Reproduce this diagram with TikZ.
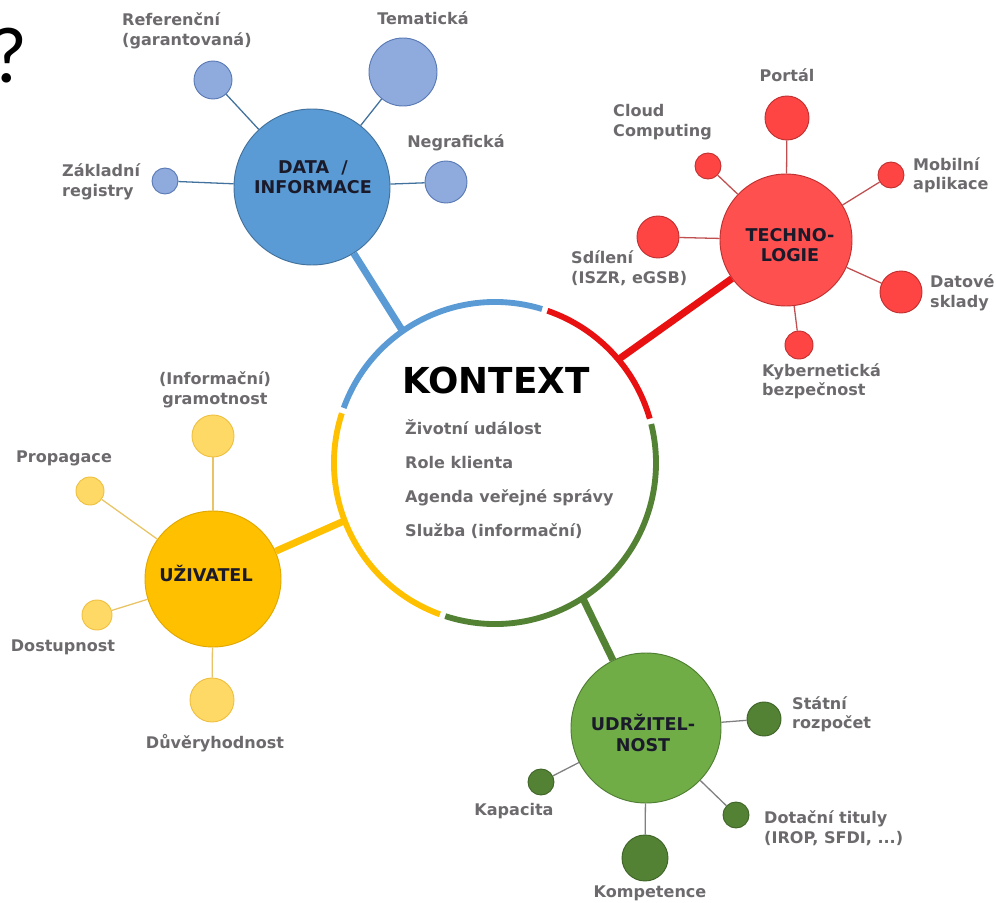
\documentclass[tikz,border=0pt]{standalone}
\usepackage{fontspec}
\setmainfont{DejaVu Sans}
\newfontfamily\qfont{Carlito}
\usetikzlibrary{calc}

\definecolor{cblue}{HTML}{5B9BD5}
\definecolor{cblueline}{HTML}{41719C}
\definecolor{sblue}{HTML}{8FAADC}
\definecolor{sblueline}{HTML}{5A7AB5}
\definecolor{cred}{HTML}{E81010}
\definecolor{hred}{HTML}{FF5050}
\definecolor{hredline}{HTML}{C03030}
\definecolor{sred}{HTML}{FF4444}
\definecolor{lred}{HTML}{C05050}
\definecolor{cyellow}{HTML}{FFC000}
\definecolor{cyellowline}{HTML}{E0A800}
\definecolor{syellow}{HTML}{FFD966}
\definecolor{syellowline}{HTML}{EEC040}
\definecolor{lyellow}{HTML}{E8C466}
\definecolor{cgreen}{HTML}{548235}
\definecolor{hgreen}{HTML}{70AD47}
\definecolor{hgreenline}{HTML}{507E32}
\definecolor{sgreenline}{HTML}{3F6427}
\definecolor{lgreen}{HTML}{808080}
\definecolor{lblgray}{HTML}{6D6A6E}
\definecolor{hubtext}{HTML}{1A1A2A}

\begin{document}
\begin{tikzpicture}[x = 0.03cm, y = 0.03cm,
	hub/.style = {circle, draw, line width = 0.8pt, inner sep = 0pt, minimum size = #1*0.06cm},
	hubtxt/.style = {inner sep = 0pt, align = center, text = hubtext, font = \bfseries\fontsize{15}{17.5}\selectfont},
	sat/.style = {circle, draw, line width = 0.8pt, inner sep = 0pt, minimum size = #1*0.06cm},
	lbl/.style = {inner sep = 0pt, align = left, text = lblgray, font = \bfseries\fontsize{13.7}{16.6}\selectfont},
	link/.style = {line width = 1.1pt},
	spoke/.style = {line width = 6pt},
	ring/.style = {line width = 5pt}]
	\useasboundingbox (0,-903) rectangle (996,0);
	
	%otaznik
	\node[font = \qfont\fontsize{68}{68}\selectfont, anchor = base, inner sep = 0pt] (qmark) at (9,-83) {?};
	
	%kontext
	\node[circle, minimum size = 9.66cm, inner sep = 0pt, outer sep = 0pt] (kontext) at (495,-463) {};
	\node[font = \bfseries\fontsize{30.5}{30.5}\selectfont, inner sep = 0pt] (title) at (496,-380) {KONTEXT};
	\node[lbl, anchor = west, font = \bfseries\fontsize{13.7}{29}\selectfont] (ctxlist) at (405,-479) {Životní událost\\Role klienta\\Agenda veřejné správy\\Služba (informační)};
	
	%hlavni uzly
	\node[hub = 78, fill = cblue, draw = cblueline] (data) at (312,-187) {};
	\node[hub = 66, fill = hred, draw = hredline] (techno) at (786,-240) {};
	\node[hub = 68, fill = cyellow, draw = cyellowline] (uziv) at (213,-579) {};
	\node[hub = 75, fill = hgreen, draw = hgreenline] (udrz) at (646,-728) {};
	\node[hubtxt] (datatxt) at (313,-177) {DATA\ \ /\\INFORMACE};
	\node[hubtxt] (technotxt) at (790,-245) {TECHNO-\\LOGIE};
	\node[hubtxt] (uzivtxt) at (206,-573) {UŽIVATEL};
	\node[hubtxt] (udrztxt) at (643,-733) {UDRŽITEL-\\NOST};
	
	%spojky ke kruhu
	\draw[spoke, cblue] (kontext.125) -- (data);
	\draw[spoke, cred] (kontext.40) -- (techno);
	\draw[spoke, cyellow] (kontext.201) -- (uziv);
	\draw[spoke, cgreen] (kontext.-57) -- (udrz);
	
	%kruh
	\draw[ring, cblue] (kontext.73) arc[start angle = 73, end angle = 160, radius = 4.83cm];
	\draw[ring, cred] (kontext.16) arc[start angle = 16, end angle = 71, radius = 4.83cm];
	\draw[ring, cgreen] (kontext.252) arc[start angle = 252, end angle = 374, radius = 4.83cm];
	\draw[ring, cyellow] (kontext.162) arc[start angle = 162, end angle = 250, radius = 4.83cm];
	
	%data / informace
	\node[sat = 19, fill = sblue, draw = sblueline] (ref) at (213,-80) {};
	\node[sat = 34, fill = sblue, draw = sblueline] (tem) at (403,-72) {};
	\node[sat = 21, fill = sblue, draw = sblueline] (neg) at (446,-182) {};
	\node[sat = 13, fill = sblue, draw = sblueline] (zak) at (165,-181) {};
	\foreach \s in {ref, tem, neg, zak}
		\draw[link, cblueline] (data) -- (\s);
	\node[lbl, anchor = west] (reflbl) at (122,-31) {Referenční\\(garantovaná)};
	\node[lbl] (temlbl) at (423,-18) {Tematická};
	\node[lbl] (neglbl) at (456,-143) {Negrafická};
	\node[lbl, anchor = west] (zaklbl) at (62,-182) {Základní\\registry};
	
	%technologie
	\node[sat = 22, fill = sred, draw = hredline] (portal) at (787,-118) {};
	\node[sat = 13, fill = sred, draw = hredline] (cloud) at (708,-166) {};
	\node[sat = 13, fill = sred, draw = hredline] (mob) at (891,-175) {};
	\node[sat = 21, fill = sred, draw = hredline] (sdil) at (658,-237) {};
	\node[sat = 21, fill = sred, draw = hredline] (dat) at (901,-292) {};
	\node[sat = 14, fill = sred, draw = hredline] (kyb) at (799,-345) {};
	\foreach \s in {portal, cloud, mob, sdil, dat, kyb}
		\draw[link, lred] (techno) -- (\s);
	\node[lbl] (portallbl) at (787,-75) {Portál};
	\node[lbl, anchor = west] (cloudlbl) at (613,-122) {Cloud\\Computing};
	\node[lbl, anchor = west] (moblbl) at (913,-175) {Mobilní\\aplikace};
	\node[lbl, anchor = west] (sdillbl) at (571,-268) {Sdílení\\(ISZR, eGSB)};
	\node[lbl, anchor = west] (datlbl) at (930,-293) {Datové\\sklady};
	\node[lbl, anchor = west] (kyblbl) at (762,-381) {Kybernetická\\bezpečnost};
	
	%uzivatel
	\node[sat = 21, fill = syellow, draw = syellowline] (gram) at (213,-436) {};
	\node[sat = 14, fill = syellow, draw = syellowline] (prop) at (90,-491) {};
	\node[sat = 15, fill = syellow, draw = syellowline] (dost) at (97,-615) {};
	\node[sat = 22, fill = syellow, draw = syellowline] (duv) at (212,-700) {};
	\foreach \s in {gram, prop, dost, duv}
		\draw[link, lyellow] (uziv) -- (\s);
	\node[lbl, align = center] (gramlbl) at (215,-390) {(Informační)\\gramotnost};
	\node[lbl] (proplbl) at (64,-458) {Propagace};
	\node[lbl] (dostlbl) at (63,-647) {Dostupnost};
	\node[lbl] (duvlbl) at (215,-743) {Důvěryhodnost};
	
	%udrzitelnost
	\node[sat = 17, fill = cgreen, draw = sgreenline] (stat) at (764,-719) {};
	\node[sat = 13, fill = cgreen, draw = sgreenline] (kap) at (541,-782) {};
	\node[sat = 23, fill = cgreen, draw = sgreenline] (komp) at (645,-858) {};
	\node[sat = 13, fill = cgreen, draw = sgreenline] (dot) at (736,-815) {};
	\foreach \s in {stat, kap, komp, dot}
		\draw[link, lgreen] (udrz) -- (\s);
	\node[lbl, anchor = west] (statlbl) at (792,-714) {Státní\\rozpočet};
	\node[lbl] (kaplbl) at (514,-811) {Kapacita};
	\node[lbl] (komplbl) at (650,-893) {Kompetence};
	\node[lbl, anchor = west] (dotlbl) at (764,-828) {Dotační tituly\\(IROP, SFDI, ...)};
\end{tikzpicture}
\end{document}
